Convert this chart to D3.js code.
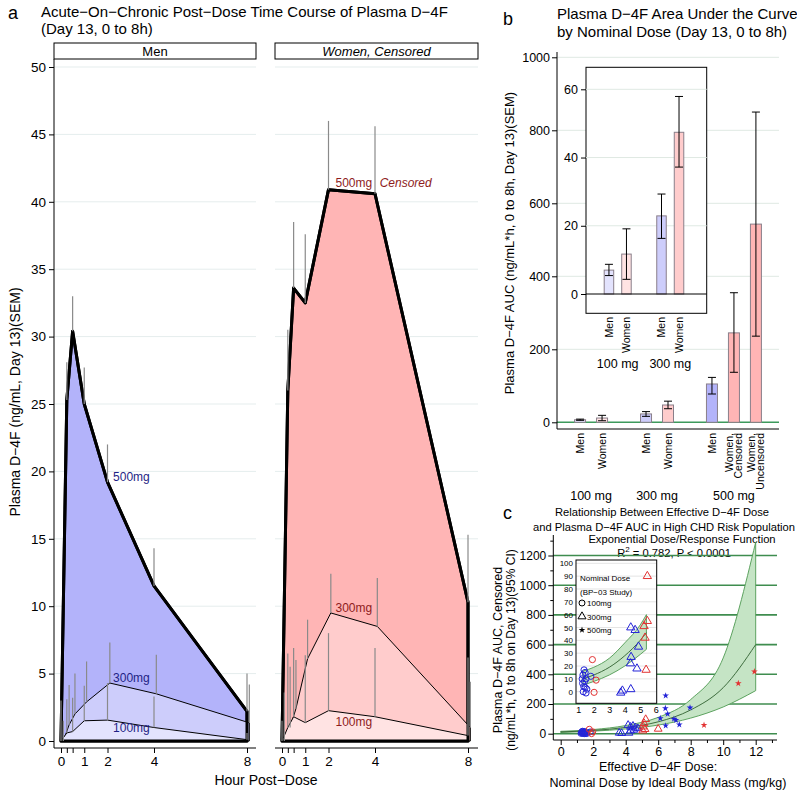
<!DOCTYPE html>
<html><head><meta charset="utf-8">
<script src="https://cdn.jsdelivr.net/npm/d3@7"></script>
<style>body{margin:0;background:#fff}</style>
</head><body><svg id="chart" width="797" height="794"></svg>
<script>
const FONT = "'Liberation Sans', Arial, Helvetica, sans-serif";

// ---------- Panel a data ----------
const hours = [0, 0.25, 0.5, 1, 2, 4, 8];
const aDoses = ["100mg", "300mg", "500mg"];
const men100 = [0, 0.6, 0.7, 1.5, 1.55, 1.0, 0.1];
const men300 = [0, 1.2, 2.0, 2.9, 4.3, 3.5, 1.35];
const men500 = [0, 25.3, 30.4, 25.0, 19.2, 11.5, 2.2];
const menSem100 = [3.0, 2.5, 2.5, 2.6, 2.75, 2.3, 0.5];
const menSem300 = [1.5, 2.95, 3.0, 3.0, 3.0, 2.9, 2.85];
const menSem500 = [0, 2.8, 2.6, 2.7, 2.8, 2.8, 2.8];
const women100 = [0, 1.0, 1.8, 1.36, 2.25, 1.8, 0.4];
const women300 = [0, 1.0, 2.4, 6.1, 9.5, 8.5, 1.0];
const women500 = [0, 26.0, 33.6, 32.5, 40.9, 40.6, 10.3];
const womenSem100 = [1.5, 5.5, 5.1, 5.0, 5.75, 5.1, 5.8];
const womenSem300 = [3.6, 4.5, 3.6, 2.9, 2.9, 3.6, 3.4];
const womenSem500 = [0, 4.5, 4.9, 5.1, 5.1, 5.0, 5.0];
const aYTicks = [0, 5, 10, 15, 20, 25, 30, 35, 40, 45, 50];
const aXTicks = [0, 0.25, 0.5, 1, 2, 4, 8];

// ---------- Panel b data ----------
const bGroups = ["100 mg", "300 mg", "500 mg"];
const bLabels = [["Men"], ["Women"], ["Men"], ["Women"], ["Men"], ["Women,", "Censored"], ["Women,", "Uncensored"]];
const bGroupOf = [0, 0, 1, 1, 2, 2, 2];
const bSex = ["m", "w", "m", "w", "m", "w", "w"];
const bMean = [7.0, 11.7, 22.9, 47.4, 105, 245, 543];
const bLow = [5.4, 4.3, 16.3, 37.2, 77.5, 137, 236];
const bHigh = [8.7, 19.1, 29.3, 57.9, 123, 355, 850];
const bYTicks = [0, 200, 400, 600, 800, 1000];
const bInsetYTicks = [0, 20, 40, 60];

// ---------- Panel c data ----------
const cMenCircles = [[1.25,2],[1.3,6],[1.32,14],[1.35,17],[1.38,1],[1.4,9],[1.42,4],[1.45,15],[1.48,0],[1.5,7],[1.52,11],[1.55,3],[1.6,1],[1.82,12],[1.28,10]];
const cWomenCircles = [[1.76,30],[1.97,13],[1.9,0]];
const cMenTriangles = [[3.6,5],[3.75,3],[4.15,58],[4.3,45],[4.45,52],[4.6,40],[4.3,20],[4.2,5],[4.5,25],[4.75,35]];
const cWomenTriangles = [[5.23,97],[5.13,70],[5.08,47],[5.19,30],[5.05,20],[6.0,32]];
const cMenStars = [[6.46,256],[6.44,171],[6.58,133],[6.13,103],[6.97,99],[7.09,92],[6.46,54],[7.3,61],[7.96,175]];
const cWomenStars = [[8.82,58],[10.93,339],[11.92,418]];
const cFitDose = [0, 2, 4, 6, 8, 10, 12];
const cFit = [12, 22, 42, 80, 160, 310, 600];
const cFitLow = [8, 17, 32, 58, 105, 180, 290];
const cFitHigh = [16, 28, 55, 110, 230, 510, 1290];
const cYTicks = [0, 200, 400, 600, 800, 1000, 1200];
const cXTicks = [0, 2, 4, 6, 8, 10, 12];
// inset of c
const ciMenCircles = [[1.37,17],[1.44,15],[1.3,13],[1.81,12],[1.5,10],[1.28,6.5],[1.4,8],[1.44,3.4],[1.32,0],[1.5,-1],[1.35,4],[1.55,2],[1.25,10]];
const ciWomenCircles = [[1.91,25],[2.15,9],[2.02,-0.5]];
const ciMenTriangles = [[4.39,50],[4.67,48],[4.89,35],[4.41,27],[4.37,22],[4.79,18],[3.85,0.8],[3.74,-0.8],[4.39,1.9]];
const ciWomenTriangles = [[5.46,90],[5.46,55],[5.25,51],[5.31,42],[5.38,17]];
const ciFitDose = [1.3, 2, 3, 4, 5, 5.4];
const ciFit = [10, 13, 19, 28, 40, 46];
const ciFitLow = [5, 8, 13, 20, 29, 33];
const ciFitHigh = [16, 19, 26, 38, 52, 60];
const ciYTicks = [0,10,20,30,40,50,60,70,80,90,100];
const ciXTicks = [1,2,3,4,5,6];
const legendItems = ["100mg", "300mg", "500mg"];

// ---------- helpers ----------
const svg = d3.select("#chart").attr("font-family", FONT);
const fmt = d3.format("d");
function txt(g, x, y, s, opt = {}) {
  const t = g.append("text").attr("x", x).attr("y", y).text(s)
    .attr("font-size", opt.size || 13).attr("fill", opt.fill || "#000")
    .attr("text-anchor", opt.anchor || "start");
  if (opt.italic) t.attr("font-style", "italic");
  if (opt.rotate) t.attr("transform", `rotate(-90,${x},${y})`);
  return t;
}
function styleAxis(g, fs) {
  g.attr("font-family", FONT).attr("font-size", fs);
  g.select(".domain").remove();
  g.selectAll(".tick line").attr("stroke", "#000");
  g.selectAll(".tick text").attr("fill", "#000");
}
const blueFills = ["#e3e3fd", "#cdcdfb", "#b3b3fa"];
const redFills = ["#ffe3e3", "#ffcccc", "#ffb5b5"];

// ================= Panel a =================
const ga = svg.append("g");
txt(ga, 8, 19, "a", {size: 18});
txt(ga, 41, 17, "Acute\u2212On\u2212Chronic Post\u2212Dose Time Course of Plasma D\u22124F", {size: 15});
txt(ga, 41, 34, "(Day 13, 0 to 8h)", {size: 15});
txt(ga, 20, 402, "Plasma D\u22124F (ng/mL, Day 13)(SEM)", {size: 14, anchor: "middle", rotate: true});
txt(ga, 266, 785, "Hour Post\u2212Dose", {size: 14, anchor: "middle"});

const ya = d3.scaleLinear().domain([0, 50]).range([741, 67]);
const panelsA = [
  {x0: 54, x1: 256, range: [61, 247], strip: "Men", italic: false,
   means: [men100, men300, men500], sems: [menSem100, menSem300, menSem500],
   fills: blueFills, col: "#1f1f85",
   labels: [[2.24, 0.7, "100mg"], [2.24, 4.4, "300mg"], [2.24, 19.3, "500mg"]], extra: null},
  {x0: 275, x1: 478, range: [282, 468], strip: "Women, Censored", italic: true,
   means: [women100, women300, women500], sems: [womenSem100, womenSem300, womenSem500],
   fills: redFills, col: "#8e1c1c",
   labels: [[2.3, 1.1, "100mg"], [2.3, 9.6, "300mg"], [2.3, 41.1, "500mg"]], extra: [4.2, 41.1, "Censored"]}
];
const jit = [0, 0.1, 0];
panelsA.forEach((p, pi) => {
  const x = d3.scaleLinear().domain([0, 8]).range(p.range);
  const g = ga.append("g");
  g.selectAll(".grid").data(aYTicks.filter(v => v > 0)).join("line")
    .attr("x1", p.x0).attr("x2", p.x1).attr("y1", d => ya(d)).attr("y2", d => ya(d))
    .attr("stroke", "#e5eded").attr("stroke-width", 1);
  g.append("rect").attr("x", p.x0).attr("y", 43).attr("width", p.x1 - p.x0).attr("height", 16)
    .attr("fill", "#fff").attr("stroke", "#000").attr("stroke-width", 1);
  txt(g, (p.x0 + p.x1) / 2, 56, p.strip, {size: 13, anchor: "middle", italic: p.italic});
  const mkArea = k => d3.area().x((d, i) => x(hours[i] + jit[k])).y0(ya(0)).y1(d => ya(d));
  [2, 1, 0].forEach(k => {
    g.append("path").attr("d", mkArea(k)(p.means[k])).attr("fill", p.fills[k])
      .attr("stroke", "#000").attr("stroke-width", k === 2 ? 3 : 1).attr("stroke-linejoin", "round");
  });
  g.append("path").attr("d", mkArea(2)(p.means[2])).attr("fill", "none")
    .attr("stroke", "#000").attr("stroke-width", 3).attr("stroke-linejoin", "round");
  [0, 1, 2].forEach(k => {
    p.means[k].forEach((m, i) => {
      const s = p.sems[k][i];
      if (s <= 0) return;
      g.append("line").attr("x1", x(hours[i] + jit[k])).attr("x2", x(hours[i] + jit[k]))
        .attr("y1", ya(m)).attr("y2", ya(m + s)).attr("stroke", "#8a8a8a").attr("stroke-width", 1.2);
    });
  });
  p.labels.forEach(l => txt(g, x(l[0]), ya(l[1]), l[2], {size: 12, fill: p.col}));
  if (p.extra) txt(g, x(p.extra[0]), ya(p.extra[1]), p.extra[2], {size: 12, fill: p.col, italic: true});
  g.append("line").attr("x1", p.x0).attr("x2", p.x1).attr("y1", 748).attr("y2", 748).attr("stroke", "#000");
  const xa = g.append("g").attr("transform", "translate(0,748)")
    .call(d3.axisBottom(x).tickValues(aXTicks).tickSize(5).tickPadding(3)
      .tickFormat(d => Number.isInteger(d) ? d : ""));
  styleAxis(xa, 13.5);
  if (pi === 0) {
    g.append("line").attr("x1", p.x0).attr("x2", p.x0).attr("y1", 59).attr("y2", 748).attr("stroke", "#000");
    const yax = g.append("g").attr("transform", `translate(${p.x0},0)`)
      .call(d3.axisLeft(ya).tickValues(aYTicks).tickSize(5).tickPadding(3).tickFormat(fmt));
    styleAxis(yax, 13.5);
  }
});

// ================= Panel b =================
const gb = svg.append("g");
txt(gb, 503, 25, "b", {size: 18});
txt(gb, 557, 19, "Plasma D\u22124F Area Under the Curve", {size: 15});
txt(gb, 557, 37, "by Nominal Dose (Day 13, 0 to 8h)", {size: 15});
txt(gb, 514, 243, "Plasma D\u22124F AUC (ng/mL*h, 0 to 8h, Day 13)(SEM)", {size: 13, anchor: "middle", rotate: true});

const pos = bMean.map((d, i) => i + bGroupOf[i]);
const fillB = i => (bSex[i] === "m" ? blueFills : redFills)[bGroupOf[i]];
const yb = d3.scaleLinear().domain([0, 1000]).range([422.3, 57.3]);
const xb = d3.scaleLinear().domain([-1.05, 9.05]).range([557, 779]);
gb.selectAll(".gridb").data(bYTicks.filter(v => v > 0)).join("line")
  .attr("x1", 557).attr("x2", 779).attr("y1", d => yb(d)).attr("y2", d => yb(d))
  .attr("stroke", "#dfe9e3");
gb.append("line").attr("x1", 557).attr("x2", 779).attr("y1", yb(0)).attr("y2", yb(0))
  .attr("stroke", "#3d9a5c").attr("stroke-width", 1.5);
const bw = 11;
bMean.forEach((m, i) => {
  gb.append("rect").attr("x", xb(pos[i]) - bw / 2).attr("y", yb(m)).attr("width", bw)
    .attr("height", yb(0) - yb(m)).attr("fill", fillB(i)).attr("stroke", "#8a7f8a").attr("stroke-width", 1);
  const xc = xb(pos[i]);
  gb.append("line").attr("x1", xc).attr("x2", xc).attr("y1", yb(bLow[i])).attr("y2", yb(bHigh[i])).attr("stroke", "#000");
  [bLow[i], bHigh[i]].forEach(v => gb.append("line").attr("x1", xc - 4).attr("x2", xc + 4)
    .attr("y1", yb(v)).attr("y2", yb(v)).attr("stroke", "#000"));
  bLabels[i].forEach((s, j) => {
    const xx = xc + (j - (bLabels[i].length - 1) / 2) * 9.5;
    gb.append("text").attr("transform", `translate(${xx},433) rotate(-90)`).attr("dy", "0.35em")
      .attr("text-anchor", "end").attr("font-size", 10.5).text(s);
  });
});
bGroups.forEach((gname, gi) => {
  const ps = pos.filter((p, i) => bGroupOf[i] === gi);
  txt(gb, xb(d3.mean(ps)), 500, gname, {size: 12.5, anchor: "middle"});
});
gb.append("line").attr("x1", 557).attr("x2", 557).attr("y1", 52).attr("y2", 429).attr("stroke", "#000");
gb.append("line").attr("x1", 557).attr("x2", 779).attr("y1", 429).attr("y2", 429).attr("stroke", "#000");
const ybAx = gb.append("g").attr("transform", "translate(557,0)")
  .call(d3.axisLeft(yb).tickValues(bYTicks).tickSize(5).tickPadding(2).tickFormat(fmt));
styleAxis(ybAx, 12.5);

// inset of b
const gbi = gb.append("g");
const ybi = d3.scaleLinear().domain([0, 60]).range([294, 89.3]);
const xbi = d3.scaleLinear().domain([-1.31, 5.58]).range([586, 706.7]);
gbi.append("rect").attr("x", 586).attr("y", 67.3).attr("width", 120.7).attr("height", 246)
  .attr("fill", "#fff").attr("stroke", "#000");
gbi.selectAll(".gridbi").data(bInsetYTicks.filter(v => v > 0)).join("line")
  .attr("x1", 586).attr("x2", 706.7).attr("y1", d => ybi(d)).attr("y2", d => ybi(d)).attr("stroke", "#dfe9e3");
const biw = 9.5;
[0, 1, 2, 3].forEach(i => {
  const xc = xbi(pos[i]);
  gbi.append("rect").attr("x", xc - biw / 2).attr("y", ybi(bMean[i])).attr("width", biw)
    .attr("height", ybi(0) - ybi(bMean[i])).attr("fill", fillB(i)).attr("stroke", "#8a7f8a");
  gbi.append("line").attr("x1", xc).attr("x2", xc).attr("y1", ybi(bLow[i])).attr("y2", ybi(bHigh[i])).attr("stroke", "#000");
  [bLow[i], bHigh[i]].forEach(v => gbi.append("line").attr("x1", xc - 4).attr("x2", xc + 4)
    .attr("y1", ybi(v)).attr("y2", ybi(v)).attr("stroke", "#000"));
  gbi.append("text").attr("transform", `translate(${xc},317) rotate(-90)`).attr("dy", "0.35em")
    .attr("text-anchor", "end").attr("font-size", 10.5).text(bLabels[i][0]);
});
gbi.append("line").attr("x1", 586).attr("x2", 706.7).attr("y1", ybi(0)).attr("y2", ybi(0)).attr("stroke", "#000");
[0, 1].forEach(gi => {
  const ps = pos.filter((p, i) => bGroupOf[i] === gi);
  txt(gbi, xbi(d3.mean(ps)), 368, bGroups[gi], {size: 12.5, anchor: "middle"});
});
const ybiAx = gbi.append("g").attr("transform", "translate(586,0)")
  .call(d3.axisLeft(ybi).tickValues(bInsetYTicks).tickSize(5).tickPadding(3).tickFormat(fmt));
styleAxis(ybiAx, 12.5);

// ================= Panel c =================
const gc = svg.append("g");
txt(gc, 503, 519, "c", {size: 18});
txt(gc, 662, 516, "Relationship Between Effective D\u22124F Dose", {size: 11.2, anchor: "middle"});
txt(gc, 664, 531, "and Plasma D\u22124F AUC in High CHD Risk Population", {size: 11.2, anchor: "middle"});
txt(gc, 682, 543, "Exponential Dose/Response Function", {size: 11.2, anchor: "middle"});
const r2 = gc.append("text").attr("x", 674).attr("y", 557).attr("text-anchor", "middle").attr("font-size", 11.2);
r2.append("tspan").text("R");
r2.append("tspan").attr("dy", -5).attr("font-size", 8).text("2");
r2.append("tspan").attr("dy", 5).text(" = 0.782, P < 0.0001");
txt(gc, 502, 650, "Plasma D\u22124F AUC, Censored", {size: 12.5, anchor: "middle", rotate: true});
txt(gc, 515, 650, "(ng/mL*h, 0 to 8h on Day 13)(95% CI)", {size: 12, anchor: "middle", rotate: true});
txt(gc, 658, 771, "Effective D\u22124F Dose:", {size: 12.5, anchor: "middle"});
txt(gc, 668, 787, "Nominal Dose by Ideal Body Mass (mg/kg)", {size: 12.5, anchor: "middle"});

const yc = d3.scaleLinear().domain([0, 1200]).range([733.7, 555.5]);
const xc = d3.scaleLinear().domain([0, 12]).range([560.7, 755.7]);
gc.selectAll(".gridc").data(cYTicks).join("line")
  .attr("x1", 553.3).attr("x2", 777).attr("y1", d => yc(d)).attr("y2", d => yc(d))
  .attr("stroke", "#3f8d4f").attr("stroke-width", 1.6);
function drawBand(g, xs, ys, dose, lo, hi, mid) {
  const idx = dose.map((d, i) => i);
  const area = d3.area().curve(d3.curveMonotoneX).x(i => xs(dose[i])).y0(i => ys(lo[i])).y1(i => ys(hi[i]));
  g.append("path").attr("d", area(idx)).attr("fill", "#c5e4c5").attr("stroke", "#4f9a52").attr("stroke-width", 0.9);
  const line = d3.line().curve(d3.curveMonotoneX).x(i => xs(dose[i])).y(i => ys(mid[i]));
  g.append("path").attr("d", line(idx)).attr("fill", "none").attr("stroke", "#2f5f2f").attr("stroke-width", 0.9);
}
drawBand(gc, xc, yc, cFitDose, cFitLow, cFitHigh, cFit);
const BLUE = "#2323d8", RED = "#e23232";
function drawPts(g, xs, ys, pts, type, color, size, filled) {
  const sym = d3.symbol().type(type).size(size);
  g.selectAll(null).data(pts).join("path")
    .attr("transform", d => `translate(${xs(d[0])},${ys(d[1])})`).attr("d", sym)
    .attr("fill", filled ? color : "none").attr("stroke", filled ? "none" : color).attr("stroke-width", 1);
}
function drawAll(g, xs, ys, sets) {
  sets.forEach(s => drawPts(g, xs, ys, s[0], s[1], s[2], s[3], s[4]));
}
drawAll(gc, xc, yc, [
  [cMenCircles, d3.symbolCircle, BLUE, 28, false],
  [cWomenCircles, d3.symbolCircle, RED, 28, false],
  [cMenTriangles, d3.symbolTriangle, BLUE, 26, false],
  [cWomenTriangles, d3.symbolTriangle, RED, 26, false],
  [cMenStars, d3.symbolStar, BLUE, 14, true],
  [cWomenStars, d3.symbolStar, RED, 14, true]
]);
gc.append("line").attr("x1", 553.3).attr("x2", 553.3).attr("y1", 535).attr("y2", 740).attr("stroke", "#000");
gc.append("line").attr("x1", 553.3).attr("x2", 777).attr("y1", 740).attr("y2", 740).attr("stroke", "#000");
const ycAx = gc.append("g").attr("transform", "translate(553.3,0)")
  .call(d3.axisLeft(yc).tickValues(cYTicks).tickSize(5).tickPadding(2).tickFormat(fmt));
styleAxis(ycAx, 12);
const ycMin = gc.append("g").attr("transform", "translate(553.3,0)")
  .call(d3.axisLeft(yc).tickValues(cYTicks.map(v => v + 100)).tickSize(3).tickFormat(""));
styleAxis(ycMin, 10);
const xcAx = gc.append("g").attr("transform", "translate(0,740)")
  .call(d3.axisBottom(xc).tickValues(cXTicks).tickSize(5).tickPadding(2).tickFormat(fmt));
styleAxis(xcAx, 12.5);
const xcMin = gc.append("g").attr("transform", "translate(0,740)")
  .call(d3.axisBottom(xc).tickValues(cXTicks.map(v => v + 1)).tickSize(3).tickFormat(""));
styleAxis(xcMin, 10);

// inset of c
const gci = gc.append("g");
const ci = {x: 576, y: 560, w: 80.7, h: 143.3};
gci.append("rect").attr("x", ci.x).attr("y", ci.y).attr("width", ci.w).attr("height", ci.h).attr("fill", "#fff");
gci.append("clipPath").attr("id", "ciclip").append("rect").attr("x", ci.x).attr("y", ci.y).attr("width", ci.w).attr("height", ci.h);
const yci = d3.scaleLinear().domain([0, 100]).range([691.7, 563.3]);
const xci = d3.scaleLinear().domain([1, 6]).range([578.3, 655.7]);
const gcc = gci.append("g").attr("clip-path", "url(#ciclip)");
gcc.selectAll(".gridci").data(ciYTicks).join("line")
  .attr("x1", ci.x).attr("x2", ci.x + ci.w).attr("y1", d => yci(d)).attr("y2", d => yci(d)).attr("stroke", "#e4e4e4");
drawBand(gcc, xci, yci, ciFitDose, ciFitLow, ciFitHigh, ciFit);
drawAll(gcc, xci, yci, [
  [ciMenCircles, d3.symbolCircle, BLUE, 30, false],
  [ciWomenCircles, d3.symbolCircle, RED, 30, false],
  [ciMenTriangles, d3.symbolTriangle, BLUE, 30, false],
  [ciWomenTriangles, d3.symbolTriangle, RED, 30, false]
]);
gci.append("rect").attr("x", ci.x).attr("y", ci.y).attr("width", ci.w).attr("height", ci.h)
  .attr("fill", "none").attr("stroke", "#000");
const yciAx = gci.append("g").attr("transform", `translate(${ci.x},0)`)
  .call(d3.axisLeft(yci).tickValues(ciYTicks).tickSize(0).tickPadding(3).tickFormat(fmt));
styleAxis(yciAx, 8);
const xciAx = gci.append("g").attr("transform", `translate(0,${ci.y + ci.h})`)
  .call(d3.axisBottom(xci).tickValues(ciXTicks).tickSize(0).tickPadding(3).tickFormat(fmt));
styleAxis(xciAx, 9);
txt(gci, 580, 581, "Nominal Dose", {size: 8});
txt(gci, 580, 595, "(BP\u221203 Study)", {size: 8});
const legSyms = [d3.symbolCircle, d3.symbolTriangle, d3.symbolStar];
legendItems.forEach((s, i) => {
  const yy = 603 + i * 13.5;
  gci.append("path").attr("transform", `translate(582,${yy})`).attr("d", d3.symbol().type(legSyms[i]).size(i === 2 ? 14 : 28))
    .attr("fill", i === 2 ? "#000" : "none").attr("stroke", i === 2 ? "none" : "#000");
  txt(gci, 587, yy + 3, s, {size: 8});
});
</script></body></html>
